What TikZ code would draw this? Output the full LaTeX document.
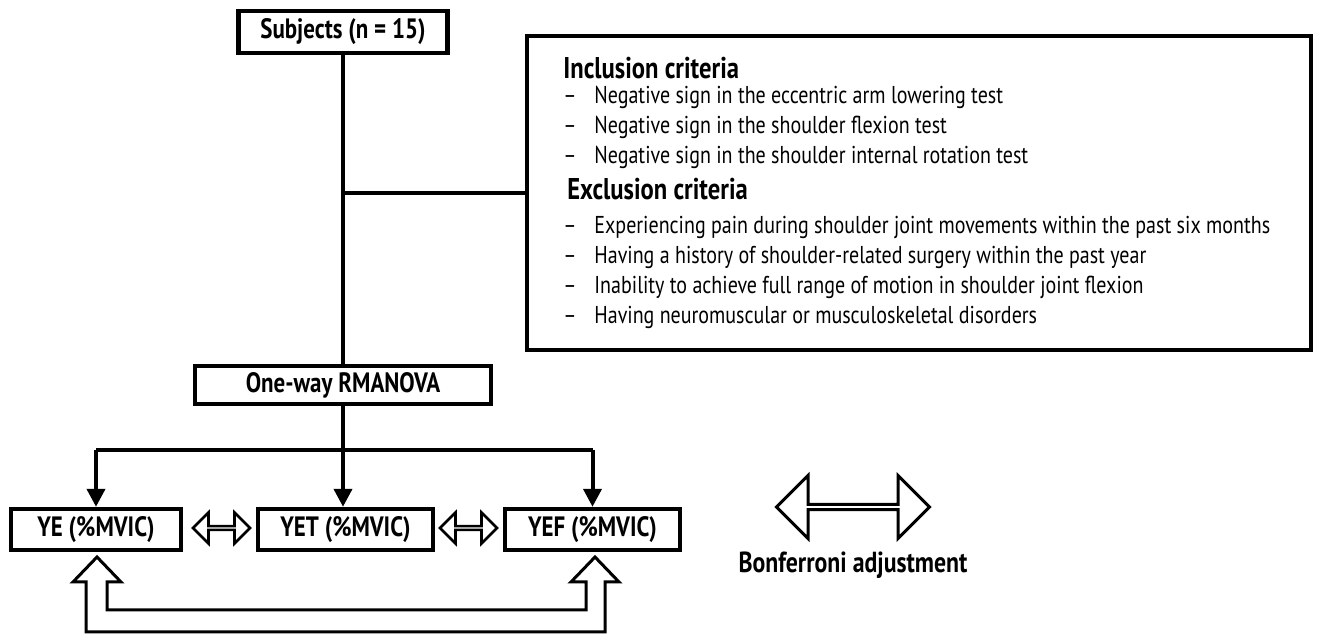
\documentclass[tikz,border=0pt]{standalone}
\usepackage{fontspec}
\setmainfont{PT Sans}[FakeStretch=0.82]
\usetikzlibrary{arrows.meta,shapes.arrows}

\tikzset{
  box/.style={draw, line width=2.2pt, inner sep=0pt, font=\bfseries\fontsize{14}{16}\selectfont},
  link/.style={line width=2pt},
  drop/.style={link, -{Triangle[length=9pt,width=9pt]}},
  swap/.style={draw, line width=1.3pt, double arrow, double arrow head extend=4.75pt,
    double arrow head indent=0pt, minimum height=28.5pt, minimum width=15.5pt, inner sep=0pt},
  crit/.style={anchor=west, inner sep=0pt, text height=8.5pt, text depth=2.5pt,
    font=\fontsize{12.2}{14}\selectfont},
  crithead/.style={anchor=west, inner sep=0pt, font=\bfseries\fontsize{15}{17}\selectfont},
}

\begin{document}
\begin{tikzpicture}[x=0.5pt, y=-0.5pt]
\useasboundingbox (0,0) rectangle (1318,635);
%\draw [very thin, color = gray](0, 0) grid[step=50] (1318, 635);

% boxes
\node [box, minimum width=104.5pt, minimum height=21pt] (subj) at (343, 32) {Subjects (n = 15)};
\node [box, minimum width=148pt, minimum height=19pt] (anova) at (343, 385) {One-way RMANOVA};
\node [box, line width=2.4pt, minimum width=392pt, minimum height=157pt] (criteria) at (919, 193) {};
\node [box, minimum width=85pt, minimum height=20.5pt] (ye) at (96, 529.5) {YE (\%MVIC)};
\node [box, minimum width=87.5pt, minimum height=20.5pt] (yet) at (345.5, 529.5) {YET (\%MVIC)};
\node [box, minimum width=87.5pt, minimum height=20.5pt] (yef) at (592.5, 529.5) {YEF (\%MVIC)};

% criteria text
\node [crithead] (inc) at (563, 68) {Inclusion criteria};
\node [crit] (inc1) at (594, 98) {Negative sign in the eccentric arm lowering test};
\node [crit] (inc2) at (594, 128) {Negative sign in the shoulder flexion test};
\node [crit] (inc3) at (594, 158) {Negative sign in the shoulder internal rotation test};
\node [crithead] (exc) at (567, 189) {Exclusion criteria};
\node [crit] (exc1) at (594, 228) {Experiencing pain during shoulder joint movements within the past six months};
\node [crit] (exc2) at (594, 258) {Having a history of shoulder-related surgery within the past year};
\node [crit] (exc3) at (594, 288) {Inability to achieve full range of motion in shoulder joint flexion};
\node [crit] (exc4) at (594, 318) {Having neuromuscular or musculoskeletal disorders};
\foreach \i/\y in {1/98, 2/128, 3/158, 4/228, 5/258, 6/288, 7/318}
  \node [crit] (dash\i) at (563, \y) {\textendash};

% connectors
\draw [link] (subj) -- (anova);
\draw [link] (criteria.west) -- (criteria.west -| subj);
\coordinate (fork) at (343, 450);
\draw [link] (anova.south) -- (fork);
\draw [link] (fork -| ye.north) -- (fork -| yef.north);
\draw [drop] (fork -| ye.north) -- (ye.north);
\draw [drop] (fork) -- (fork |- yet.north);
\draw [drop] (fork -| yef.north) -- (yef.north);

% pairwise arrows
\node [swap] (sw1) at (221.5, 528) {};
\node [swap] (sw2) at (468.5, 528) {};
\draw [line width=1.5pt, line join=miter]
  (97,557) -- (121,582) -- (107,582) -- (107,610) -- (586,610) -- (586,582) -- (571,582)
  -- (595,557) -- (619,582) -- (605,582) -- (605,632) -- (86,632) -- (86,582) -- (73,582) -- cycle;

% legend
\node [swap, line width=1.5pt, minimum height=76.5pt, minimum width=31.5pt,
  double arrow head extend=8.5pt] (legend) at (853, 507) {};
\node [font=\bfseries\fontsize{14.5}{16}\selectfont, inner sep=0pt] (bonf) at (853, 565) {Bonferroni adjustment};
\end{tikzpicture}
\end{document}
